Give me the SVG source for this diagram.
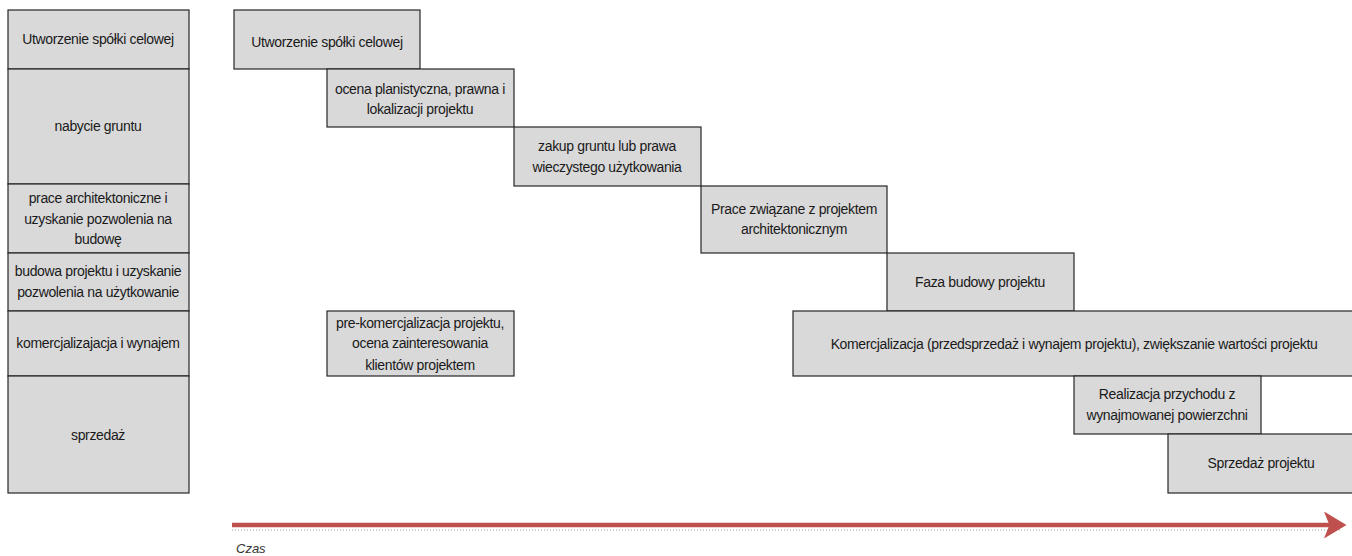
<svg xmlns="http://www.w3.org/2000/svg" width="1352" height="556" viewBox="0 0 1352 556">
<style>
.b{fill:#D9D9D9;stroke:#262626;stroke-width:1.2}
.t{font-family:"Liberation Sans",Arial,sans-serif;font-size:14px;fill:#1a1a1a;text-anchor:middle;letter-spacing:-0.35px}
</style>
<defs>
<marker id="ah" markerWidth="6" markerHeight="6" refX="4" refY="3" orient="auto" markerUnits="strokeWidth">
<path d="M0,0 L5,3 L0,6 L1.2,3 Z" fill="#C0504D"/>
</marker>
</defs>
<rect width="1352" height="556" fill="#fff"/>
<g id="phases">
<g id="p1"><rect class="b" x="8" y="10" width="181" height="59"/><text class="t" x="98" y="44">Utworzenie spółki celowej</text></g>
<g id="p2"><rect class="b" x="8" y="69" width="181" height="115"/><text class="t" x="98" y="131">nabycie gruntu</text></g>
<g id="p3"><rect class="b" x="8" y="184" width="181" height="69"/><text class="t" x="98" y="203">prace architektoniczne i</text><text class="t" x="98" y="224">uzyskanie pozwolenia na</text><text class="t" x="98" y="244">budowę</text></g>
<g id="p4"><rect class="b" x="8" y="253" width="181" height="58"/><text class="t" x="98" y="276">budowa projektu i uzyskanie</text><text class="t" x="98" y="297">pozwolenia na użytkowanie</text></g>
<g id="p5"><rect class="b" x="8" y="311" width="181" height="65"/><text class="t" x="98" y="348">komercjalizajacja i wynajem</text></g>
<g id="p6"><rect class="b" x="8" y="376" width="181" height="117"/><text class="t" x="98" y="440">sprzedaż</text></g>
</g>
<g id="tasks">
<g id="t1"><rect class="b" x="234" y="10" width="186" height="59"/><text class="t" x="327" y="47">Utworzenie spółki celowej</text></g>
<g id="t2"><rect class="b" x="327" y="69" width="187" height="58"/><text class="t" x="420" y="94">ocena planistyczna, prawna i</text><text class="t" x="420" y="114">lokalizacji projektu</text></g>
<g id="t3"><rect class="b" x="514" y="127" width="187" height="59"/><text class="t" x="607" y="151">zakup  gruntu lub prawa</text><text class="t" x="607" y="172">wieczystego użytkowania</text></g>
<g id="t4"><rect class="b" x="701" y="186" width="186" height="67"/><text class="t" x="794" y="214">Prace związane z projektem</text><text class="t" x="794" y="234">architektonicznym</text></g>
<g id="t5"><rect class="b" x="887" y="253" width="187" height="58"/><text class="t" x="980" y="287">Faza budowy projektu</text></g>
<g id="t6"><rect class="b" x="793" y="311" width="562" height="65"/><text class="t" x="1074" y="349">Komercjalizacja (przedsprzedaż i wynajem projektu), zwiększanie wartości projektu</text></g>
<g id="t7"><rect class="b" x="327" y="311" width="187" height="65"/><text class="t" x="420" y="328">pre-komercjalizacja projektu,</text><text class="t" x="420" y="348">ocena zainteresowania</text><text class="t" x="420" y="370">klientów projektem</text></g>
<g id="t8"><rect class="b" x="1074" y="376" width="187" height="58"/><text class="t" x="1167" y="399">Realizacja przychodu z</text><text class="t" x="1167" y="420">wynajmowanej powierzchni</text></g>
<g id="t9"><rect class="b" x="1168" y="434" width="187" height="59"/><text class="t" x="1261" y="468">Sprzedaż projektu</text></g>
</g>
<g id="connectors">
<line x1="232" y1="530" x2="1340" y2="530" stroke="#999" stroke-width="1" stroke-dasharray="1,2"/>
<line x1="232" y1="525" x2="1342" y2="525" stroke="#C0504D" stroke-width="4.5" marker-end="url(#ah)"/>
</g>
<text x="236" y="553" style="font-family:'Liberation Sans',Arial,sans-serif;font-size:13px;font-style:italic;fill:#333">Czas</text>
</svg>
